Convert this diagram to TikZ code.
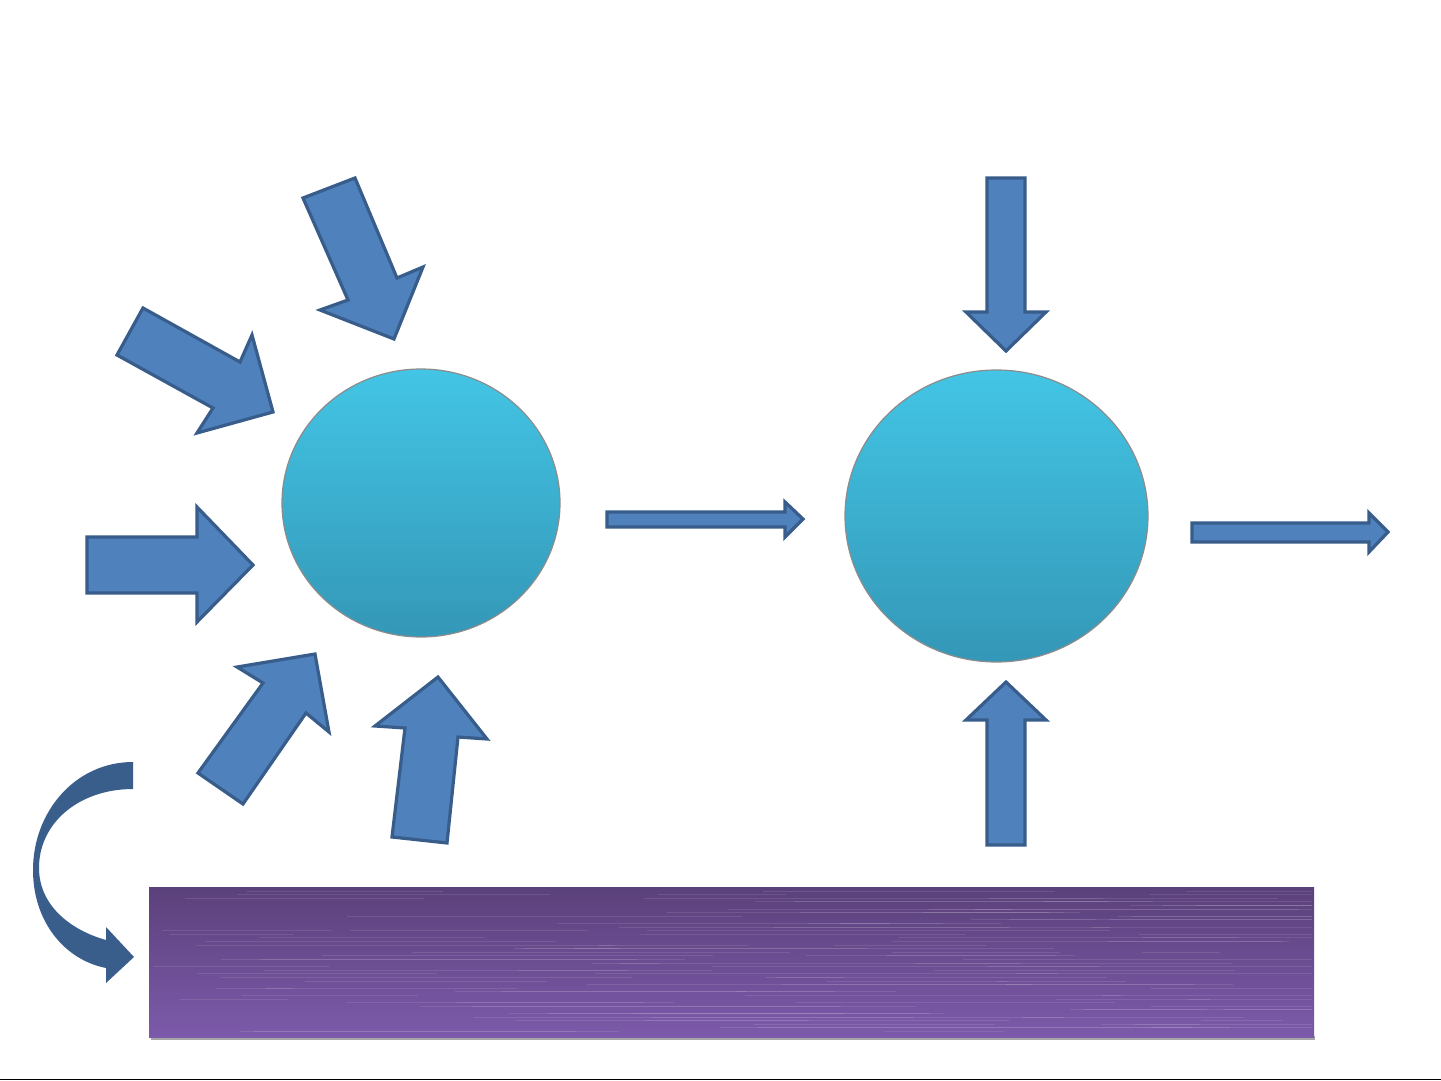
\documentclass[tikz,border=0pt]{standalone}
\usetikzlibrary{shapes.geometric}
\definecolor{arrowfill}{HTML}{4F81BD}
\definecolor{arrowline}{HTML}{385D8A}
\definecolor{curvecol}{HTML}{3A5E8B}
\definecolor{balltop}{HTML}{43C5E5}
\definecolor{ballbot}{HTML}{3497B7}
\definecolor{bartop}{HTML}{5B417B}
\definecolor{barbot}{HTML}{7C5AAA}
\begin{document}
\begin{tikzpicture}[x=0.5pt,y=-0.5pt,
  blockarrow/.style={fill=arrowfill, draw=arrowline, line width=1.6pt, line join=miter},
  ball/.style={ellipse, inner sep=0pt, top color=balltop, bottom color=ballbot, draw=black!45, line width=0.6pt},
  barbox/.style={rectangle, inner sep=0pt, top color=bartop, bottom color=barbot, draw=none},
  texture/.style={white, opacity=0.1, line width=0.35pt}]
\useasboundingbox[fill=white] (0,0) rectangle (1441,1081);

% balls
\node[ball, minimum width=139pt, minimum height=134pt] (c1) at (421,503) {};
\node[ball, minimum width=151.5pt, minimum height=146pt] (c2) at (996.5,516) {};

% arrows around left ball
\draw[blockarrow] (303,198) -- (355,178) -- (397,278) -- (423,267) -- (394,339) -- (320,310) -- (348,300) -- cycle;
\draw[blockarrow] (117,355) -- (143,308) -- (240,362) -- (252,335) -- (273,412) -- (197,433) -- (213,408) -- cycle;
\draw[blockarrow] (87,537) -- (197,537) -- (197,507) -- (253,565) -- (197,622) -- (197,593) -- (87,593) -- cycle;
\draw[blockarrow] (198,773) -- (263,683) -- (237,667) -- (315,654) -- (329,732) -- (306,713) -- (243,804) -- cycle;
\draw[blockarrow] (392,837) -- (405,728) -- (375,726) -- (438,677) -- (487,739) -- (458,737) -- (447,843) -- cycle;

% middle arrow
\draw[blockarrow] (607,512) -- (785,512) -- (785,502) -- (803,519) -- (785,537) -- (785,527) -- (607,527) -- cycle;

% arrows around right ball
\draw[blockarrow] (987,178) -- (1025,178) -- (1025,312) -- (1046,312) -- (1006,351) -- (966,312) -- (987,312) -- cycle;
\draw[blockarrow] (987,845) -- (987,720) -- (966,720) -- (1006,682) -- (1046,720) -- (1025,720) -- (1025,845) -- cycle;
\draw[blockarrow] (1192,523) -- (1369,523) -- (1369,513) -- (1388,532) -- (1369,552) -- (1369,542) -- (1192,542) -- cycle;

% curved arrow
\fill[curvecol] (133,762) .. controls (75,762) and (33,812) .. (33,870)
  .. controls (33,922) and (65,960) .. (106,968)
  -- (106,983) -- (134,957) -- (106,927) -- (106,940)
  .. controls (70,930) and (39,905) .. (39,868)
  .. controls (39,822) and (80,789) .. (133,789) -- cycle;

% purple bar
\fill[black!35] (151,1036) rectangle (1315,1040);
\node[barbox, minimum width=582.5pt, minimum height=75pt] (bar) at (731.5,962) {};
\pgfmathsetseed{3}
\foreach \r in {0,...,39}{
  \pgfmathsetmacro\yy{891+\r*3.6}
  \foreach \s in {0,...,2}{
    \pgfmathsetmacro\xa{151+rnd*1080}
    \pgfmathsetmacro\xb{min(1312,\xa+60+rnd*420)}
    \draw[texture] (\xa,\yy) -- (\xb,\yy);
  }
}

% bottom rule
\draw[black, line width=0.7pt] (0,1079.5) -- (1441,1079.5);
\end{tikzpicture}
\end{document}
